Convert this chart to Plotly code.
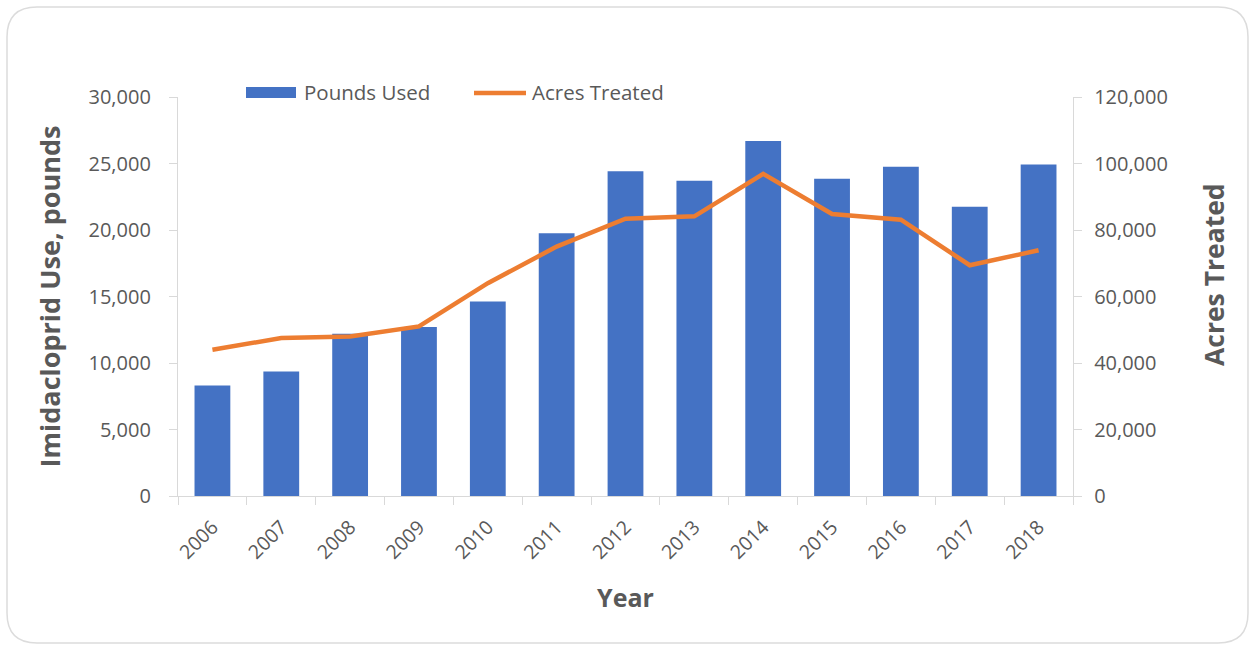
import plotly.graph_objects as go

# Imidacloprid use by year
years = ["2006", "2007", "2008", "2009", "2010", "2011", "2012",
         "2013", "2014", "2015", "2016", "2017", "2018"]
pounds_used = [8300, 9360, 12200, 12700, 14630, 19750, 24420,
               23700, 26700, 23850, 24750, 21740, 24920]
acres_treated = [44000, 47500, 48000, 51000, 64000, 75000, 83400,
                 84100, 96900, 84800, 83100, 69400, 73900]

left_ticks = [0, 5000, 10000, 15000, 20000, 25000, 30000]
right_ticks = [0, 20000, 40000, 60000, 80000, 100000, 120000]

BLUE = "#4472C4"
ORANGE = "#ED7D31"
TEXT = "#595959"
AXIS = "#D9D9D9"
FONT = "Open Sans"

W, H = 1251, 645
L, R, T, B = 178, 1073, 97, 496  # plot area in pixels


def px(x):
    return (x - L) / (R - L)


def py(y):
    return (B - y) / (B - T)


fig = go.Figure()
fig.add_trace(go.Bar(x=years, y=pounds_used, name="Pounds Used",
                     marker=dict(color=BLUE, line=dict(width=0)),
                     yaxis="y"))
fig.add_trace(go.Scatter(x=years, y=acres_treated, name="Acres Treated",
                         mode="lines", line=dict(color=ORANGE, width=4.5),
                         yaxis="y2"))

# rounded card outline around the chart
x0, y0, x1, y1, r = 7, 7, 1248, 643, 30
pts = [
    ("M", [(x0 + r, y0)]), ("L", [(x1 - r, y0)]), ("Q", [(x1, y0), (x1, y0 + r)]),
    ("L", [(x1, y1 - r)]), ("Q", [(x1, y1), (x1 - r, y1)]),
    ("L", [(x0 + r, y1)]), ("Q", [(x0, y1), (x0, y1 - r)]),
    ("L", [(x0, y0 + r)]), ("Q", [(x0, y0), (x0 + r, y0)]),
]
path = " ".join(c + " " + " ".join(f"{px(a):.5f},{py(b):.5f}" for a, b in p) for c, p in pts) + " Z"

shapes = [
    dict(type="path", path=path, xref="paper", yref="paper",
         line=dict(color="#DCDCDC", width=1.5), fillcolor="rgba(0,0,0,0)", layer="below"),
    # legend swatches
    dict(type="rect", xref="paper", yref="paper", x0=px(246), x1=px(296), y0=py(98), y1=py(87),
         fillcolor=BLUE, line=dict(width=0)),
    dict(type="line", xref="paper", yref="paper", x0=px(474), x1=px(526), y0=py(93), y1=py(93),
         line=dict(color=ORANGE, width=4.5)),
]

annotations = [
    dict(text="Pounds Used", xref="paper", yref="paper", x=px(302), y=py(92),
         xanchor="left", yanchor="middle", showarrow=False,
         font=dict(family=FONT, size=20.5, color=TEXT)),
    dict(text="Acres Treated", xref="paper", yref="paper", x=px(530), y=py(92),
         xanchor="left", yanchor="middle", showarrow=False,
         font=dict(family=FONT, size=20.5, color=TEXT)),
    # secondary axis title
    dict(text="<b>Acres Treated</b>", xref="paper", yref="paper", x=px(1214), y=py(275),
         xanchor="center", yanchor="middle", textangle=-90, showarrow=False,
         font=dict(family=FONT, size=26.5, color=TEXT)),
]

fig.update_layout(
    width=W, height=H,
    margin=dict(l=L, r=W - R, t=T, b=H - B),
    paper_bgcolor="white", plot_bgcolor="white",
    showlegend=False,
    bargap=0.48,
    font=dict(family=FONT, color=TEXT),
    shapes=shapes,
    annotations=annotations,
    xaxis=dict(
        type="category", showgrid=False, showline=True, linecolor=AXIS, linewidth=1.3,
        ticks="outside", ticklen=8, tickcolor=AXIS, tickson="boundaries",
        tickangle=-45, ticklabelstandoff=11,
        tickfont=dict(family=FONT, size=19.5, color=TEXT),
        title=dict(text="<b>Year</b>", font=dict(family=FONT, size=25, color=TEXT), standoff=26),
        zeroline=False,
    ),
    yaxis=dict(
        range=[0, 30000], tickvals=left_ticks, tickformat=",d",
        showgrid=False, showline=True, linecolor=AXIS, linewidth=1.3,
        ticks="outside", ticklen=8, tickcolor=AXIS, ticklabelstandoff=14,
        tickfont=dict(family=FONT, size=20, color=TEXT),
        title=dict(text="<b>Imidacloprid Use, pounds</b>",
                   font=dict(family=FONT, size=27, color=TEXT), standoff=20),
        zeroline=False,
    ),
    yaxis2=dict(
        range=[0, 120000], tickvals=right_ticks, tickformat=",d",
        overlaying="y", side="right",
        showgrid=False, showline=True, linecolor=AXIS, linewidth=1.3,
        ticks="outside", ticklen=8, tickcolor=AXIS, ticklabelstandoff=8,
        tickfont=dict(family=FONT, size=20, color=TEXT),
        zeroline=False,
    ),
)

fig.write_html("out.html")
